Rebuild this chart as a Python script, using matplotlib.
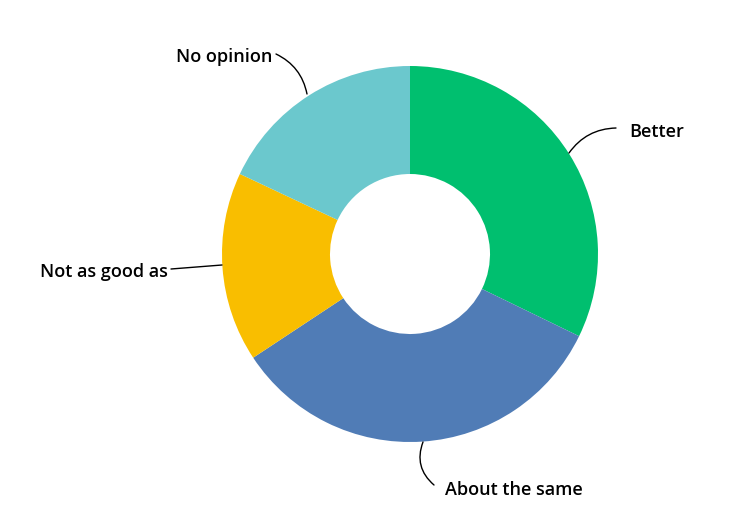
import matplotlib
matplotlib.use("Agg")
import matplotlib.pyplot as plt

labels = ["Better", "About the same", "Not as good as", "No opinion"]
values = [32.2, 33.5, 16.3, 18.0]
colors = ["#00BF6F", "#507CB6", "#F9BE00", "#6BC8CD"]

W, H = 756, 510
fig = plt.figure(figsize=(W / 100, H / 100), dpi=100)
ax = fig.add_axes([0, 0, 1, 1])

cx, cy, r_out, r_in = 410, H - 255, 188, 80
wedges, _ = ax.pie(values, colors=colors, startangle=90, counterclock=False,
                   center=(cx, cy), radius=r_out, frame=True,
                   wedgeprops=dict(width=r_out - r_in, linewidth=0))
ax.set_xlim(0, W)
ax.set_ylim(0, H)
ax.set_aspect("equal")
ax.axis("off")

# label text position (pixels, top origin), anchor on ring, curve
label_pos = {
    "Better": ((629, 132), (569, 154), 0.25),
    "About the same": ((445, 490), (423, 443), -0.35),
    "Not as good as": ((40, 272), (222, 266), 0.0),
    "No opinion": ((176, 57), (307, 95), -0.25),
}
lead_start = {
    "Better": (616, 129),
    "About the same": (434, 486),
    "Not as good as": (171, 270),
    "No opinion": (276, 55),
}

for lab in labels:
    (tx, ty), (axp, ayp), rad = label_pos[lab]
    ax.text(tx, H - ty, lab, ha="left", va="center", fontsize=13,
            fontweight="semibold", family="Open Sans", color="#000000")
    sx, sy = lead_start[lab]
    ax.annotate("", xy=(axp, H - ayp), xytext=(sx, H - sy),
                arrowprops=dict(arrowstyle="-", color="black", lw=1,
                                connectionstyle=f"arc3,rad={rad}",
                                shrinkA=0, shrinkB=0))

fig.savefig("out.png", dpi=100, facecolor="white")
